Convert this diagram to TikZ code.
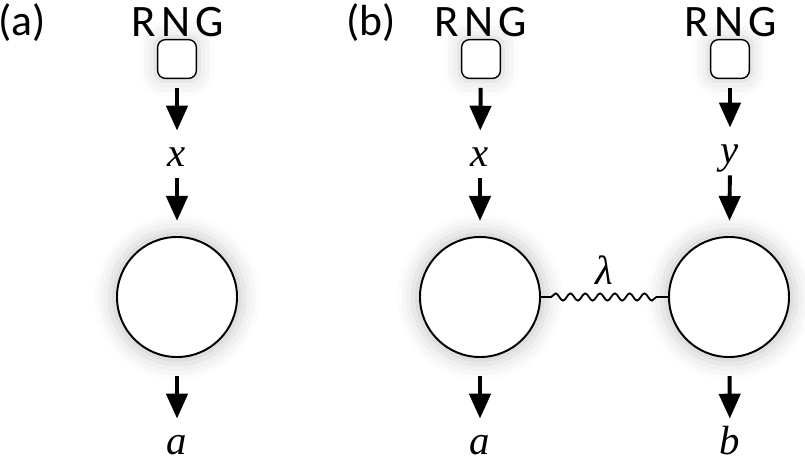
\documentclass[tikz,border=0pt]{standalone}
\usepackage{fontspec}
\setmainfont{Carlito}
\newfontfamily\varfont{Liberation Serif}
\usetikzlibrary{arrows.meta,positioning,decorations.pathmorphing,shadows.blur}

\begin{document}
\begin{tikzpicture}[x=0.025cm, y=-0.025cm,
    panel/.style={inner sep=0pt, font=\fontsize{31}{34}\selectfont},
    rng/.style={inner sep=0pt, font=\fontsize{32}{36}\selectfont},
    glow/.style={blur shadow={shadow xshift=0pt, shadow yshift=0pt, shadow scale=1.12, shadow blur radius=3.5mm, shadow opacity=18}},
    seed/.style={rectangle, rounded corners=2mm, draw, line width=1pt, fill=white, minimum size=0.97cm, glow},
    party/.style={circle, draw, line width=1.4pt, fill=white, minimum size=3cm, glow},
    var/.style={inner sep=0pt, anchor=base, text height=0.5cm, text depth=0pt, font=\varfont\itshape\fontsize{29}{32}\selectfont},
    arrow/.style={-{Triangle[length=6.2mm, width=5.3mm]}, line width=2.8pt, shorten <=0.3cm, shorten >=0.38cm},
    wave/.style={line width=1.3pt, decorate, decoration={snake, amplitude=0.9mm, segment length=3.7mm, pre length=2.5mm, post length=2.5mm}}
  ]
    \useasboundingbox (0,0) rectangle (805,463);
    % panel (a)
    \node[panel] (labA) at (22,23) {(a)};
    \node[rng] (rngA) at (178,22) {R\kern0.12emN\kern0.12emG};
    \node[seed] (seedA) at (177,59) {};
    \node[var] (xA) at (177,166) {x};
    \node[party] (alice) at (177,297) {};
    \node[var] (outA) at (177,454) {a};
    \draw[arrow, shorten <=0.22cm] (seedA) -- (xA);
    \draw[arrow] (xA) -- (alice);
    \draw[arrow, shorten <=0.45cm, shorten >=0.38cm] (alice) -- (outA);
    % panel (b)
    \node[panel] (labB) at (371,23) {(b)};
    \node[rng] (rngB) at (481,22) {R\kern0.12emN\kern0.12emG};
    \node[rng] (rngC) at (731,22) {R\kern0.12emN\kern0.12emG};
    \node[seed] (seedB) at (481,59) {};
    \node[seed] (seedC) at (730,59) {};
    \node[var] (xB) at (480,166) {x};
    \node[var] (yC) at (730,163) {y};
    \node[party] (aliceB) at (480,297) {};
    \node[party] (bob) at (729,297) {};
    \node[var] (outB) at (480,454) {a};
    \node[var] (outC) at (730,454) {b};
    \draw[arrow, shorten <=0.22cm] (seedB) -- (xB);
    \draw[arrow, shorten <=0.22cm] (seedC) -- (yC);
    \draw[arrow] (xB) -- (aliceB);
    \draw[arrow] (yC) -- (bob);
    \draw[arrow, shorten <=0.45cm, shorten >=0.38cm] (aliceB) -- (outB);
    \draw[arrow, shorten <=0.45cm, shorten >=0.38cm] (bob) -- (outC);
    \draw[wave] (aliceB) -- node[var, above=0.3cm] (lam) {λ} (bob);
\end{tikzpicture}
\end{document}
